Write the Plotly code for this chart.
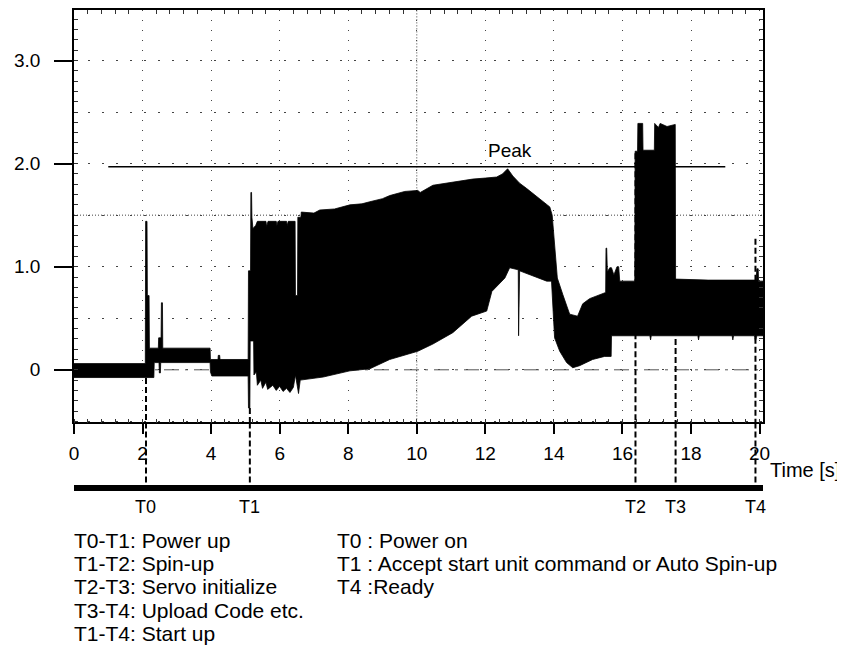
import plotly.graph_objects as go

# ---------------- data ----------------
# upper envelope of the current waveform (time s, value)
up_t = [0.0, 2.08, 2.09, 2.13, 2.14, 2.19, 2.20, 2.46, 2.47, 2.54, 2.55, 2.58, 2.59,
        3.97, 3.98, 4.20, 4.21, 4.25, 4.26, 5.08, 5.09, 5.15, 5.16, 5.18, 5.19, 5.22,
        5.30, 5.35, 5.60, 5.62, 5.66, 5.90, 5.92, 5.95, 6.20, 6.22, 6.25, 6.45, 6.46,
        6.52, 6.53, 6.62, 6.63, 7.0, 7.17, 7.6, 8.05, 8.4, 8.63, 9.0, 9.21, 9.65, 10.03,
        10.1, 10.47, 11.05, 11.63, 12.0, 12.33, 12.5, 12.65, 12.8, 13.0, 13.2, 13.5,
        13.7, 13.88, 13.95, 14.0, 14.1, 14.26, 14.46, 14.69, 14.84, 15.04, 15.39, 15.51,
        15.52, 15.54, 15.56, 15.63, 15.68, 15.75, 15.84, 15.89, 15.92, 16.36, 16.37,
        16.44, 16.45, 16.59, 16.60, 16.93, 16.94, 17.05, 17.1, 17.3, 17.54, 17.55,
        18.5, 19.9, 19.92, 19.96, 19.97, 20.1]
up_v = [0.06, 0.06, 1.44, 1.44, 0.72, 0.72, 0.21, 0.21, 0.31, 0.31, 0.65, 0.65, 0.21,
        0.21, 0.10, 0.10, 0.14, 0.14, 0.10, 0.10, 0.96, 0.96, 1.72, 1.72, 1.48, 1.37,
        1.40, 1.44, 1.44, 1.39, 1.44, 1.44, 1.40, 1.44, 1.44, 1.40, 1.44, 1.44, 0.72,
        0.72, 1.48, 1.48, 1.53, 1.52, 1.55, 1.56, 1.60, 1.61, 1.63, 1.66, 1.69, 1.73, 1.74,
        1.72, 1.79, 1.82, 1.85, 1.86, 1.87, 1.90, 1.95, 1.88, 1.81, 1.76, 1.68,
        1.63, 1.58, 1.50, 1.31, 0.89, 0.73, 0.54, 0.52, 0.64, 0.69, 0.73, 0.75,
        1.18, 1.18, 0.95, 0.99, 0.99, 0.92, 1.00, 1.00, 0.86, 0.86, 2.12,
        2.12, 2.39, 2.39, 2.13, 2.13, 2.39, 2.35, 2.39, 2.36, 2.38, 0.88,
        0.87, 0.87, 0.98, 0.98, 0.86, 0.86]

# lower envelope of the current waveform (time s, value)
lo_t = [0.0, 2.33, 2.34, 2.48, 2.49, 2.52, 2.53, 3.97, 3.98, 4.02, 5.08, 5.09, 5.13,
        5.14, 5.24, 5.25, 5.32, 5.35, 5.45, 5.5, 5.6, 5.65, 5.8, 5.9, 6.0, 6.1, 6.2,
        6.3, 6.4, 6.46, 6.5, 6.55, 6.6, 7.27, 8.05, 8.63, 9.21, 10.03, 10.47, 11.05,
        11.6, 12.04, 12.19, 12.57, 12.71, 12.96, 12.97, 12.99, 13.0, 13.79, 13.93,
        14.02, 14.17, 14.37, 14.55, 14.75, 15.13, 15.48, 15.67, 15.68, 16.8, 16.82,
        16.84, 18.2, 18.22, 18.24, 19.2, 19.22, 19.24, 19.85, 19.88, 19.92, 20.1]
lo_v = [-0.075, -0.075, 0.07, 0.07, -0.03, -0.03, 0.07, 0.07, -0.02, -0.06, -0.06, -0.37, -0.37,
        0.28, 0.28, -0.05, -0.02, -0.15, -0.10, -0.18, -0.12, -0.19, -0.15, -0.20, -0.16, -0.21, -0.18,
        -0.22, -0.17, -0.05, -0.10, -0.23, -0.10, -0.07, -0.01, 0.01, 0.10, 0.18, 0.25, 0.36,
        0.52, 0.57, 0.76, 0.89, 0.99, 0.97, 0.33, 0.33, 0.96, 0.86, 0.86,
        0.31, 0.18, 0.07, 0.02, 0.04, 0.10, 0.13, 0.13, 0.33, 0.33, 0.29,
        0.33, 0.33, 0.29, 0.33, 0.33, 0.29, 0.33, 0.33, 0.28, 0.33, 0.33]

peak_level = 1.97
peak_span = [1.0, 19.0]

# event markers: name, time [s], signal level where the dashed line starts
event_names = ["T0", "T1", "T2", "T3", "T4"]
event_times = [2.10, 5.13, 16.38, 17.55, 19.88]
event_start = [-0.08, -0.37, 2.10, 0.30, 1.27]

x_ticks = list(range(0, 21, 2))
y_tickvals = [0, 1, 2, 3]
y_ticktext = ["0", "1.0", "2.0", "3.0"]

left_notes = ["T0-T1: Power up", "T1-T2: Spin-up", "T2-T3: Servo initialize",
              "T3-T4: Upload Code etc.", "T1-T4: Start up"]
right_notes = ["T0 : Power on", "T1 : Accept start unit command or Auto Spin-up",
               "T4 :Ready"]

# ---------------- figure ----------------
FONT = "Liberation Sans, Arial, sans-serif"
XR = [0, 20.1]
YR = [-0.51, 3.49]
PLOT_H = 512
split = 98 / PLOT_H  # lower strip (timeline) height fraction

fig = go.Figure()

# zero baseline
fig.add_trace(go.Scatter(x=XR, y=[0, 0], mode="lines",
                         line=dict(color="#555", width=1, dash="longdashdot"),
                         hoverinfo="skip", showlegend=False))

# waveform envelope
poly_x = up_t + lo_t[::-1]
poly_y = up_v + lo_v[::-1]
fig.add_trace(go.Scatter(x=poly_x, y=poly_y, mode="lines", fill="toself",
                         fillcolor="black", line=dict(color="black", width=0.8),
                         hoverinfo="skip", showlegend=False))

# peak line
fig.add_trace(go.Scatter(x=peak_span, y=[peak_level, peak_level], mode="lines",
                         line=dict(color="black", width=1.5),
                         hoverinfo="skip", showlegend=False))

# event dashed lines in main plot
for t, s in zip(event_times, event_start):
    fig.add_trace(go.Scatter(x=[t, t], y=[s, YR[0]], mode="lines",
                             line=dict(color="black", width=2, dash="6px,3px"),
                             hoverinfo="skip", showlegend=False))

# lower strip: dashed continuation + timeline bar
for t in event_times:
    fig.add_trace(go.Scatter(x=[t, t], y=[98, 32], mode="lines", xaxis="x2", yaxis="y2",
                             line=dict(color="black", width=2, dash="6px,3px"),
                             hoverinfo="skip", showlegend=False))
fig.add_trace(go.Scatter(x=XR, y=[32, 32], mode="lines", xaxis="x2", yaxis="y2",
                         line=dict(color="black", width=6),
                         hoverinfo="skip", showlegend=False))

# invisible trace for the grid/minor-tick overlay axes
fig.add_trace(go.Scatter(x=[None], y=[None], xaxis="x3", yaxis="y3",
                         hoverinfo="skip", showlegend=False))

# centre lines (denser dots)
fig.add_shape(type="line", xref="x", yref="y", x0=10, x1=10, y0=YR[0], y1=YR[1],
              line=dict(color="#444", width=1, dash="1px,2px"), layer="below")
fig.add_shape(type="line", xref="x", yref="y", x0=XR[0], x1=XR[1], y0=1.5, y1=1.5,
              line=dict(color="#444", width=1, dash="1px,2px"), layer="below")

annotations = []
annotations.append(dict(x=12.71, y=2.13, xref="x", yref="y", text="Peak", showarrow=False,
                        font=dict(size=19)))
annotations.append(dict(x=1.0072, y=50, xref="paper", yref="y2", text="Time [s]",
                        showarrow=False, xanchor="left", yanchor="middle",
                        font=dict(size=20)))
for name, t in zip(event_names, event_times):
    annotations.append(dict(x=t, y=13, xref="x", yref="y2", text=name, showarrow=False,
                            yanchor="middle", font=dict(size=18)))
rows_px = [21, 44, 67, 91, 114]   # pixels below the bottom of the plotting region
for txt, r in zip(left_notes, rows_px):
    annotations.append(dict(x=-0.003, y=-r / PLOT_H, xref="paper", yref="paper", text=txt,
                            showarrow=False, xanchor="left", yanchor="middle",
                            font=dict(size=21)))
for txt, r in zip(right_notes, rows_px):
    annotations.append(dict(x=0.379, y=-r / PLOT_H, xref="paper", yref="paper", text=txt,
                            showarrow=False, xanchor="left", yanchor="middle",
                            font=dict(size=21)))

fig.update_layout(
    width=837, height=642,
    margin=dict(l=66, r=82, t=0, b=130),
    paper_bgcolor="white", plot_bgcolor="white",
    font=dict(family=FONT, color="black", size=19),
    showlegend=False,
    annotations=annotations,
    xaxis=dict(domain=[0, 1], range=XR, anchor="y", tickmode="array", tickvals=x_ticks,
               ticks="outside", ticklen=10, tickwidth=2, tickcolor="black",
               showgrid=False, zeroline=False, showline=True, linecolor="black",
               linewidth=1.5, mirror=True, tickfont=dict(size=19), ticklabelstandoff=3,
               minor=dict(dtick=0.4, tick0=0, ticks="inside", ticklen=4, tickwidth=1,
                          tickcolor="#333", showgrid=False)),
    yaxis=dict(domain=[split, 1], range=YR, anchor="x", tickmode="array",
               tickvals=y_tickvals, ticktext=y_ticktext, ticks="outside", ticklen=18,
               tickwidth=2, tickcolor="black", showgrid=False, zeroline=False,
               showline=True, linecolor="black", linewidth=1.5, mirror=True,
               tickfont=dict(size=19), ticklabelstandoff=10,
               minor=dict(dtick=0.1, tick0=0, ticks="inside", ticklen=4, tickwidth=1,
                          tickcolor="#333", showgrid=False)),
    xaxis3=dict(overlaying="x", side="top", anchor="y", range=XR, tickmode="linear",
                tick0=0, dtick=2, ticks="", showticklabels=False, showgrid=True,
                gridcolor="#444", gridwidth=1, griddash="1px,9px", zeroline=False,
                showline=False,
                minor=dict(dtick=0.4, tick0=0, ticks="inside", ticklen=4, tickwidth=1,
                           tickcolor="#333", showgrid=False)),
    yaxis3=dict(overlaying="y", side="right", anchor="x", range=YR, tickmode="linear",
                tick0=0, dtick=0.5, ticks="", showticklabels=False, showgrid=True,
                gridcolor="#444", gridwidth=1, griddash="2px,12px", zeroline=False,
                showline=False,
                minor=dict(dtick=0.1, tick0=0, ticks="inside", ticklen=4, tickwidth=1,
                           tickcolor="#333", showgrid=False)),
    xaxis2=dict(domain=[0, 1], anchor="y2", matches="x", visible=False),
    yaxis2=dict(domain=[0, split], range=[0, 98], anchor="x2", visible=False),
)

fig.write_html("out.html")
